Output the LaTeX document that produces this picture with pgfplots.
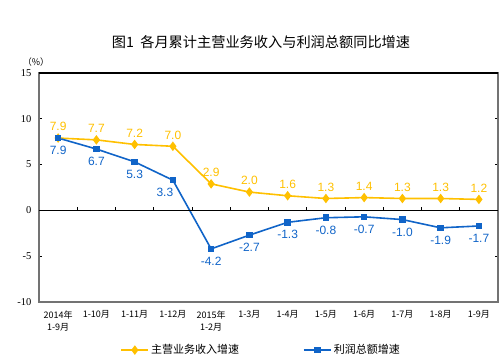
\documentclass[border=0pt]{standalone}
\usepackage{pgfplots}
\pgfplotsset{compat=1.18}
\usepackage{fontspec}
\setmainfont{Liberation Sans}
\newfontfamily\cjk{Noto Sans CJK SC}
\newfontfamily\serif{Liberation Serif}
\definecolor{sorange}{RGB}{255,192,0}
\definecolor{sblue}{RGB}{16,100,200}
\begin{document}
\begin{tikzpicture}
\useasboundingbox (0pt,0pt) rectangle (500pt,360pt);
\node[font=\cjk\fontsize{14.2}{16}\selectfont] at (261pt,318pt) {图1\ \ 各月累计主营业务收入与利润总额同比增速};
\node[font=\cjk\fontsize{9}{10}\selectfont] at (36pt,298pt) {（\%）};
\begin{axis}[
  at={(39pt,58pt)}, anchor=south west,
  scale only axis, width=459pt, height=229pt,
  xmin=-0.5, xmax=11.5, ymin=-10, ymax=15,
  ytick={-10,-5,0,5,10,15},
  xtick={0,...,11},
  xticklabels={{2014年\\1-9月},1-10月,1-11月,1-12月,{2015年\\1-2月},1-3月,1-4月,1-5月,1-6月,1-7月,1-8月,1-9月},
  xticklabel style={font=\cjk\fontsize{9}{12}\selectfont, align=center, anchor=north, yshift=-5pt},
  major x tick style={draw=none},
  yticklabel style={font=\serif\fontsize{10.5}{12}\selectfont, xshift=-4pt},
  /pgf/number format/assume math mode=true,
  major y tick style={black, line width=0.7pt},
  tick align=inside, major tick length=3pt,
  axis line style={black!55, line width=1.1pt},
  clip=false,
  legend columns=2,
  legend style={at={(0.484,-0.21)}, anchor=center, draw=none, fill=none,
    font=\cjk\fontsize{11}{13}\selectfont, /tikz/every even column/.append style={column sep=62pt}},
  legend image code/.code={\draw[#1] (0pt,0pt) -- (27pt,0pt); \draw[#1, mark repeat=2, mark phase=2] plot coordinates {(0pt,0pt) (13.5pt,0pt) (27pt,0pt)};},
  point meta=explicit symbolic,
  nodes near coords,
  every node near coord/.append style={font=\fontsize{12}{14}\selectfont},
]
\addplot[sorange, line width=1.6pt, mark=diamond*, mark size=3.5pt, mark options={solid, fill=sorange},
  every node near coord/.append style={text=sorange, anchor=south, yshift=3pt}]
  coordinates {(0,7.9) [7.9] (1,7.7) [7.7] (2,7.2) [7.2] (3,7.0) [7.0] (4,2.9) [2.9] (5,2.0) [2.0] (6,1.6) [1.6] (7,1.3) [1.3] (8,1.4) [1.4] (9,1.3) [1.3] (10,1.3) [1.3] (11,1.2) [1.2]};
\addlegendentry{主营业务收入增速}
\addplot[sblue, line width=1.6pt, mark=square*, mark size=2.5pt, mark options={solid, fill=sblue},
  every node near coord/.append style={text=sblue, anchor=north, yshift=-4pt}]
  coordinates {(0,7.9) [7.9] (1,6.7) [6.7] (2,5.3) [5.3] (3,3.3) [] (4,-4.2) [-4.2] (5,-2.7) [-2.7] (6,-1.3) [-1.3] (7,-0.8) [-0.8] (8,-0.7) [-0.7] (9,-1.0) [-1.0] (10,-1.9) [-1.9] (11,-1.7) [-1.7]};
\addlegendentry{利润总额增速}
\addplot[draw=none, mark=none, forget plot,
  every node near coord/.append style={text=sblue, anchor=north, xshift=-8pt, yshift=-4pt}]
  coordinates {(3,3.3) [3.3]};
\end{axis}
\begin{axis}[
  at={(39pt,58pt)}, anchor=south west,
  scale only axis, width=459pt, height=229pt,
  xmin=-0.5, xmax=11.5, ymin=-10, ymax=15,
  axis x line=middle, axis y line=none,
  xtick={0.5,1.5,...,10.5}, xticklabels={},
  x axis line style={-, black, line width=0.9pt},
  x tick style={black, line width=0.7pt, yshift=1.5pt},
  major tick length=3pt,
]
\end{axis}
\begin{axis}[
  at={(39pt,58pt)}, anchor=south west,
  scale only axis, width=459pt, height=229pt,
  xmin=-0.5, xmax=11.5, ymin=-10, ymax=15,
  axis x line=top, axis y line=none,
  xtick=\empty,
  x axis line style={-, black, line width=1.2pt},
]
\end{axis}
\end{tikzpicture}
\end{document}
